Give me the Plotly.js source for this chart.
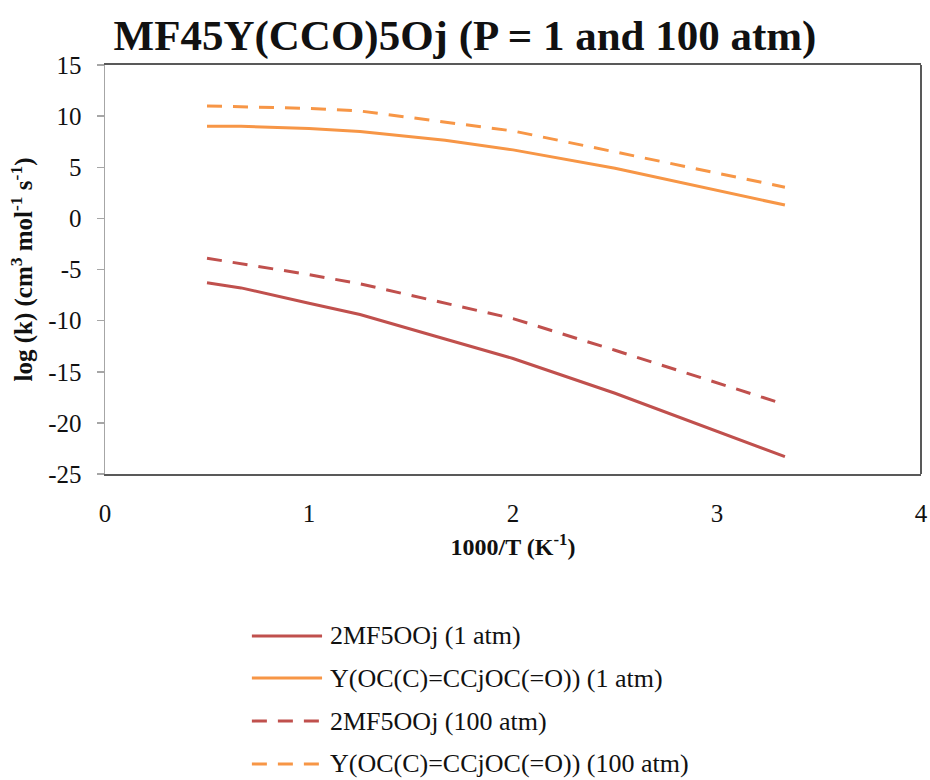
<!DOCTYPE html>
<html>
<head>
<meta charset="utf-8">
<script src="https://cdn.plot.ly/plotly-3.0.1.min.js"></script>
<style>html,body{margin:0;padding:0;background:#fff;}#chart{width:930px;height:780px;}</style>
</head>
<body>
<div id="chart"></div>
<script>
// 1000/T values (K^-1)
const invT = [0.5, 0.667, 1.0, 1.25, 1.667, 2.0, 2.5, 3.333];
// log(k) series
const mf_1atm    = [-6.3, -6.8, -8.3, -9.4, -11.8, -13.7, -17.1, -23.3];
const y_1atm     = [9.0, 9.0, 8.8, 8.5, 7.65, 6.7, 4.9, 1.3];
const mf_100atm  = [-3.9, -4.45, -5.5, -6.4, -8.3, -9.8, -12.9, -18.2];
const y_100atm   = [11.0, 10.9, 10.75, 10.5, 9.4, 8.55, 6.5, 3.05];

const seriesNames = [
  "2MF5OOj (1 atm)",
  "Y(OC(C)=CCjOC(=O)) (1 atm)",
  "2MF5OOj (100 atm)",
  "Y(OC(C)=CCjOC(=O)) (100 atm)"
];
const seriesData = [mf_1atm, y_1atm, mf_100atm, y_100atm];
const colors = ["#C0504D", "#F79646", "#C0504D", "#F79646"];
const dashes = ["solid", "solid", "15px,11px", "15px,11px"];

const xTicks = [0, 1, 2, 3, 4];
const yTicks = [-25, -20, -15, -10, -5, 0, 5, 10, 15];

const traces = seriesData.map((ys, i) => ({
  x: invT, y: ys, type: "scatter", mode: "lines", name: seriesNames[i],
  line: {color: colors[i], width: 3, dash: dashes[i]},
  showlegend: false, hoverinfo: "x+y"
}));

// custom legend (below the plot)
const legRowsY = [-0.396, -0.499, -0.604, -0.709];
const shapes = [
  {type: "line", xref: "paper", yref: "paper", x0: 1, x1: 1, y0: 0, y1: 1,
   line: {color: "#595959", width: 2}}
];
const annotations = [];
seriesNames.forEach((nm, i) => {
  shapes.push({type: "line", xref: "paper", yref: "paper",
    x0: 0.180, x1: 0.266, y0: legRowsY[i], y1: legRowsY[i],
    line: {color: colors[i], width: 3, dash: dashes[i]}});
  annotations.push({xref: "paper", yref: "paper", x: 0.273, y: legRowsY[i],
    xanchor: "left", yanchor: "middle", showarrow: false, text: nm,
    font: {size: 26}});
});

const layout = {
  width: 930, height: 780,
  margin: {l: 105, r: 9, t: 65, b: 306},
  paper_bgcolor: "#fff", plot_bgcolor: "#fff",
  font: {family: "Liberation Serif", size: 25, color: "#111111"},
  title: {text: "<b>MF45Y(CCO)5Oj (P = 1 and 100 atm)</b>",
    font: {size: 43},
    x: 0.5, xref: "container", xanchor: "center", y: 0.955, yref: "container", yanchor: "middle"},
  xaxis: {
    range: [0, 4], tickvals: xTicks, ticktext: xTicks.map(String),
    showgrid: false, zeroline: false,
    showline: true, linecolor: "#595959", linewidth: 2, mirror: true,
    ticks: "", ticklabelstandoff: 16,
    tickfont: {size: 25},
    title: {text: "<b>1000/T (K<sup>-1</sup>)</b>", font: {size: 24}, standoff: 12}
  },
  yaxis: {
    range: [-25, 15], tickvals: yTicks, ticktext: yTicks.map(String),
    showgrid: false, zeroline: false,
    showline: true, linecolor: "#A6A6A6", linewidth: 1.5,
    ticks: "outside", ticklen: 7, tickcolor: "#A6A6A6", tickwidth: 1.5,
    ticklabelstandoff: 10,
    tickfont: {size: 25},
    title: {text: "<b>log (k) (cm<sup>3</sup> mol<sup>-1</sup> s<sup>-1</sup>)</b>", font: {size: 25}, standoff: 8}
  },
  shapes: shapes,
  annotations: annotations
};

Plotly.newPlot("chart", traces, layout, {displayModeBar: false, staticPlot: true});
</script>
</body>
</html>
